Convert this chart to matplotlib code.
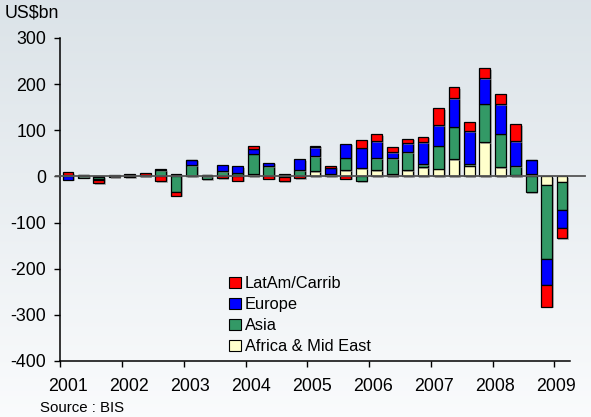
import numpy as np
import matplotlib
matplotlib.use("Agg")
import matplotlib.pyplot as plt
from matplotlib.patches import Patch
import matplotlib.patheffects as pe

plt.rcParams['font.family'] = ['Liberation Sans', 'DejaVu Sans']

years = ["2001", "2002", "2003", "2004", "2005", "2006", "2007", "2008", "2009"]
series_names = ["Africa & Mid East", "Asia", "Europe", "LatAm/Carrib"]
africa = [3, 0, -2, 0, 0, 0, 1, 2, 0, 1, 0, 3, 6, 0, 2, 0, 11, 5, 14, 18,
          13, 6, 14, 20, 17, 37, 23, 74, 20, 3, 6, -19, -12]
asia = [0, -3, -4, -1, 2, 1, 12, -33, 25, -6, 12, 5, 43, 22, -2, 13, 33, 0, 27, -10,
        27, 34, 39, 7, 50, 71, 3, 84, 73, 19, -34, -161, -60]
europe = [-7, 3, -1, 0, 3, 2, 3, 4, 11, 3, 13, 14, 11, 8, 4, 24, 20, 14, 30, 44,
          37, 13, 19, 47, 44, 61, 72, 55, 64, 54, 29, -56, -40]
latam = [6, 0, -8, 3, -2, 5, -11, -9, 0, 0, -4, -9, 7, -5, -8, -4, 3, 3, -5, 16,
         14, 10, 10, 12, 37, 25, 19, 22, 21, 37, 0, -46, -22]
colors = ["#ffffcc", "#339966", "#0000ff", "#ff0000"]

fig = plt.figure(figsize=(5.91, 4.17), dpi=100)

# background gradient
bg = fig.add_axes([0, 0, 1, 1], zorder=-10)
grad = np.linspace(0, 1, 256).reshape(-1, 1)
top = np.array([0.86, 0.89, 0.91])
bot = np.array([0.98, 0.985, 0.99])
img = top[None, None, :] * (1 - grad[:, :, None]) + bot[None, None, :] * grad[:, :, None]
bg.imshow(img, aspect='auto', extent=[0, 1, 0, 1])
bg.axis('off')

ax = fig.add_axes([0.102, 0.1343, 0.862, 0.7746])
ax.patch.set_alpha(0)

data = [africa, asia, europe, latam]
n = len(africa)
x = np.arange(n)
pos_b = np.zeros(n)
neg_b = np.zeros(n)
shadow = [pe.SimplePatchShadow(offset=(1.2, -1.2), shadow_rgbFace='#888888', alpha=0.6), pe.Normal()]
for vals, c in zip(data, colors):
    v = np.array(vals, dtype=float)
    b = np.where(v >= 0, pos_b, neg_b)
    bars = ax.bar(x, v, bottom=b, width=0.7, color=c, edgecolor='black', linewidth=0.9, zorder=3)
    for r in bars:
        r.set_path_effects(shadow)
    pos_b = pos_b + np.where(v >= 0, v, 0)
    neg_b = neg_b + np.where(v < 0, v, 0)

ax.axhline(0, xmin=-0.008, xmax=1.03, color='#555555', linewidth=1.3, clip_on=False, zorder=4)

ax.set_xlim(-0.5, n - 0.5)
ax.set_ylim(-400, 300)
ax.set_yticks(np.arange(-400, 301, 100))
ax.set_yticklabels([str(v) for v in range(-400, 301, 100)])
ax.set_xticks(np.arange(-0.5, n, 4))
ax.set_xticklabels([])
ax.set_xticks([k * 3.95 for k in range(len(years))], minor=True)
ax.set_xticklabels(years, minor=True)
ax.tick_params(axis='x', which='minor', length=0, pad=12, labelsize=12.8)
ax.tick_params(axis='x', which='major', length=4, direction='out', width=1)
ax.tick_params(axis='y', length=4, direction='out', width=1, pad=6, labelsize=12.8)
for s in ['top', 'right']:
    ax.spines[s].set_visible(False)
for s in ['left', 'bottom']:
    ax.spines[s].set_linewidth(1.1)

handles = [Patch(facecolor=colors[i], edgecolor='black', linewidth=0.8, label=series_names[i]) for i in [3, 2, 1, 0]]
ax.legend(handles=handles, loc='upper left', bbox_to_anchor=(221 / 591, 1 - 268 / 417),
          bbox_transform=fig.transFigure, frameon=False, fontsize=11.8,
          handlelength=0.7, handleheight=0.7, handletextpad=0.25, labelspacing=0.37, borderpad=0)

fig.text(5 / 591, 1 - 13 / 417, "US$bn", fontsize=12.8, va='center', ha='left')
fig.text(40 / 591, 1 - 408 / 417, "Source : BIS", fontsize=10.8, va='center', ha='left')

fig.savefig("out.png", dpi=100)
